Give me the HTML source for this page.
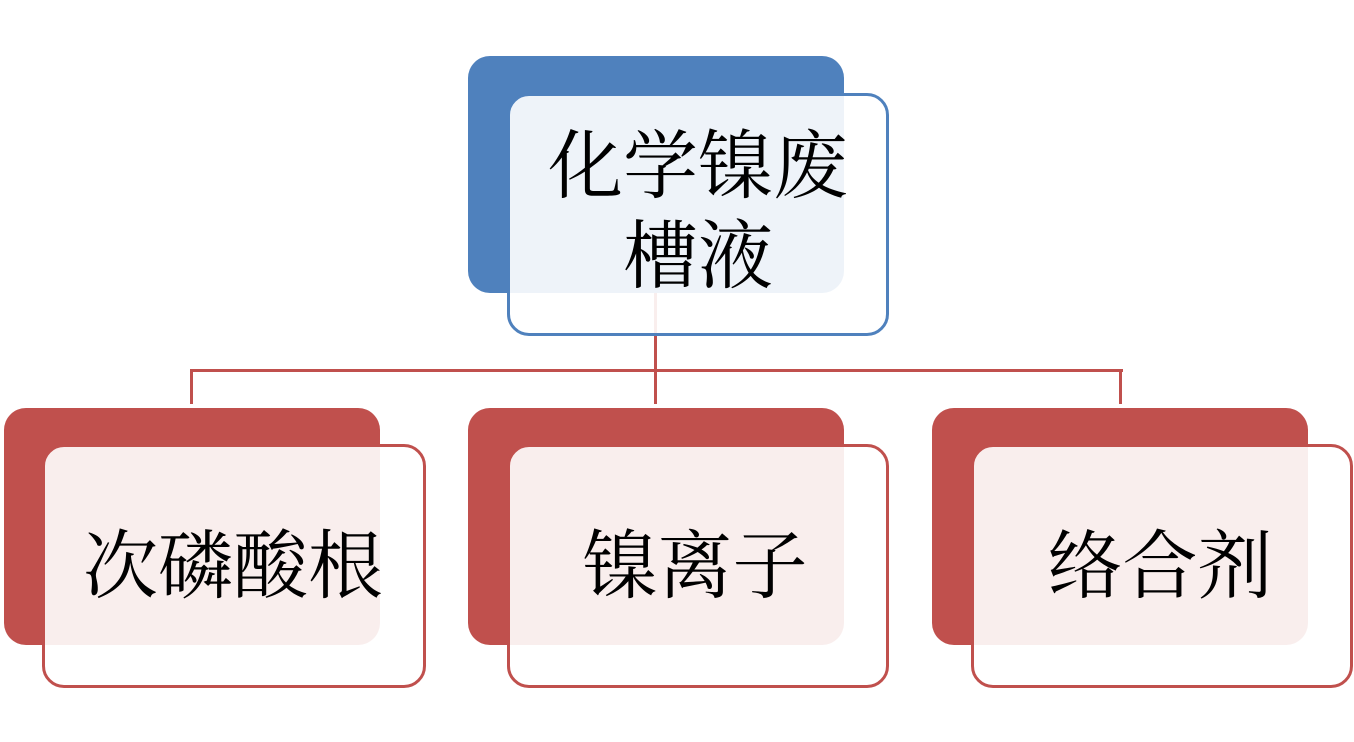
<!DOCTYPE html>
<html><head><meta charset="utf-8"><style>
body{margin:0;background:#fff;width:1354px;height:742px;overflow:hidden;position:relative;font-family:"Liberation Serif","Noto Serif CJK SC",serif}
.d{position:absolute;border-radius:22px}
.l{position:absolute;border-radius:22px;box-sizing:border-box;border:3px solid;background:rgba(255,255,255,0.9)}
.t{position:absolute;font-size:75px;line-height:90px;color:#000;white-space:nowrap;text-align:center}
.ln{position:absolute;background:#c0504d}
</style></head><body>
<div class="ln" style="left:654px;top:292px;width:3px;height:112px"></div>
<div class="ln" style="left:190px;top:369px;width:933px;height:3px"></div>
<div class="ln" style="left:190px;top:369px;width:3px;height:35px"></div>
<div class="ln" style="left:1119px;top:369px;width:3px;height:35px"></div>

<div class="d" style="left:468px;top:56px;width:376px;height:237px;background:#4f81bd"></div>
<div class="l" style="left:507px;top:93px;width:382px;height:243px;border-color:#4f81bd"></div>
<div class="t" style="left:508px;top:123px;width:380px">化学镍废<br>槽液</div>

<div class="d" style="left:4px;top:408px;width:376px;height:237px;background:#c0504d"></div>
<div class="l" style="left:42px;top:444px;width:384px;height:244px;border-color:#c0504d"></div>
<div class="t" style="left:41px;top:523px;width:384px">次磷酸根</div>

<div class="d" style="left:468px;top:408px;width:376px;height:237px;background:#c0504d"></div>
<div class="l" style="left:507px;top:444px;width:382px;height:244px;border-color:#c0504d"></div>
<div class="t" style="left:497px;top:523px;width:396px">镍离子</div>

<div class="d" style="left:932px;top:408px;width:376px;height:237px;background:#c0504d"></div>
<div class="l" style="left:971px;top:444px;width:382px;height:244px;border-color:#c0504d"></div>
<div class="t" style="left:969px;top:523px;width:382px">络合剂</div>
</body></html>
